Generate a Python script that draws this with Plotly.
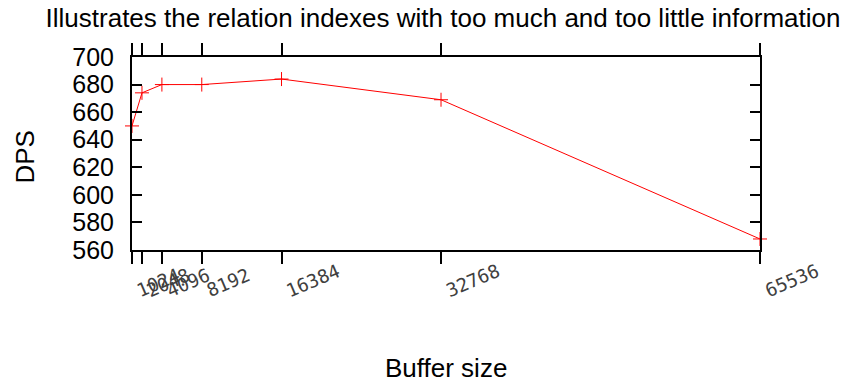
import plotly.graph_objects as go

buffer_sizes = [1024, 2048, 4096, 8192, 16384, 32768, 65536]
dps_values = [650, 674, 680, 680, 684, 669, 568]
x_tick_labels = ["1024", "2048", "4096", "8192", "16384", "32768", "65536"]
y_ticks = [560, 580, 600, 620, 640, 660, 680, 700]

title_text = "Illustrates the relation indexes with too much and too little information"
x_title = "Buffer size"
y_title = "DPS"

W, H = 848, 383
L, R, T, B = 132, 88, 57, 133

fig = go.Figure()
fig.add_trace(go.Scatter(
    x=buffer_sizes, y=dps_values, mode="lines+markers",
    line=dict(color="#ff0000", width=1),
    marker=dict(symbol="cross-thin", size=10, line=dict(color="#ff0000", width=1)),
    cliponaxis=False, showlegend=False,
))

annotations = []
char_w = 11.2
for v, lab in zip(buffer_sizes, x_tick_labels):
    n = len(lab)
    xs = 6.2 + n * char_w / 2 * 0.92
    ys = 298 - n * char_w / 2 * 0.39 - 6.4 - (H - B)
    annotations.append(dict(
        x=v, xref="x", y=0, yref="paper", text=lab, showarrow=False,
        textangle=-23, xanchor="center", yanchor="middle",
        xshift=xs, yshift=-ys,
        font=dict(family="DejaVu Sans Mono", size=18.6, color="#404040"),
    ))

annotations.append(dict(
    x=0, xref="paper", y=0.5, yref="paper", text=y_title, showarrow=False,
    textangle=-90, xanchor="center", yanchor="middle", xshift=-108, yshift=-4,
    font=dict(family="Liberation Sans", size=26, color="#000000"),
))
annotations.append(dict(
    x=0.5, xref="paper", y=0, yref="paper", text=x_title, showarrow=False,
    xanchor="center", yanchor="middle", yshift=-117.5,
    font=dict(family="Liberation Sans", size=26, color="#000000"),
))

fig.update_layout(
    width=W, height=H,
    margin=dict(l=L, r=R, t=T, b=B, pad=0),
    paper_bgcolor="white", plot_bgcolor="white",
    title=dict(text=title_text, x=443 / W, xref="container", xanchor="center",
               y=1 - 17.6 / H, yref="container", yanchor="middle",
               font=dict(family="Liberation Sans", size=26, color="#000000")),
    annotations=annotations,
    xaxis=dict(range=[1024, 65536], tickvals=buffer_sizes, showticklabels=False,
               ticks="outside", ticklen=12, tickwidth=2, tickcolor="black",
               showline=True, linecolor="black", linewidth=2, mirror="ticks",
               showgrid=False, zeroline=False),
    yaxis=dict(range=[560, 700], tickvals=y_ticks, ticks="inside", ticklen=10,
               tickwidth=2, tickcolor="black", showline=True, linecolor="black",
               linewidth=2, mirror="ticks", showgrid=False, zeroline=False,
               ticklabelstandoff=11,
               tickfont=dict(family="Liberation Sans", size=25, color="#000000")),
)

fig.write_html("out.html")
